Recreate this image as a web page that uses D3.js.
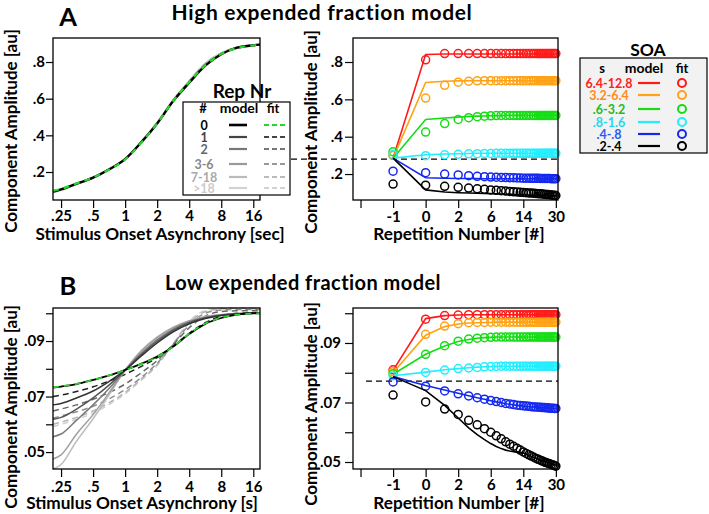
<!DOCTYPE html>
<html><head><meta charset="utf-8">
<script src="https://cdn.jsdelivr.net/npm/d3@7"></script>
<style>body{margin:0;background:#fff}svg{display:block}</style>
</head><body>
<svg id="c" width="709" height="514"></svg>
<script>
// ---------------- DATA ----------------
const soaX = [0.21,0.25,0.35,0.5,0.71,1,1.41,2,2.83,4,5.66,8,11.3,16,18.5];
const soaTicks = [0.25,0.5,1,2,4,8,16];
const soaTickLabels = [".25",".5","1","2","4","8","16"];
const repNrLabels = ["0","1","2","3-6","7-18",">18"];
const soaLabels = ["6.4-12.8","3.2-6.4",".6-3.2",".8-1.6",".4-.8",".2-.4"];
const reps = [-1,0,1,2,3,4,5,6,7,8,9,10,11,12,13,14,15,16,17,18,19,20,21,22,23,24,25,26,27,28,29,30];
const repTicks = [-1.5,-1,0,2,6,14,30];
const repTickLabels = ["","-1","0","2","6","14","30"];
const aYTicks = [0.2,0.4,0.6,0.8];
const aYTickLabels = [".2",".4",".6",".8"];
const bYTicks = [0.05,0.06,0.07,0.08,0.09,0.10];
const bYTickLabels = [".05","",".07","",".09",""];

// Panel A left (SOA curves)
const aModel0 = [0.093,0.105,0.136,0.169,0.215,0.270,0.360,0.465,0.587,0.687,0.780,0.842,0.878,0.891,0.895];
const aFit0   = [0.097,0.108,0.138,0.170,0.214,0.268,0.358,0.465,0.588,0.690,0.782,0.843,0.877,0.890,0.896];
const aModelLater = [0.090,0.102,0.134,0.168,0.215,0.271,0.362,0.468,0.592,0.696,0.792,0.848,0.880,0.892,0.895];

// Panel B left (SOA curves per repetition)
const bModel0   = [0.0732,0.0736,0.0745,0.0760,0.0776,0.0796,0.0818,0.0844,0.0880,0.0925,0.0962,0.0983,0.0995,0.1000,0.1000];
const bFit0     = [0.0733,0.0737,0.0746,0.0760,0.0776,0.0795,0.0817,0.0843,0.0880,0.0926,0.0963,0.0984,0.0995,0.0999,0.1000];
const bModel1   = [0.0670,0.0675,0.0695,0.0720,0.0755,0.0795,0.0845,0.0893,0.0933,0.0962,0.0981,0.0992,0.0997,0.1000,0.1000];
const bModel2   = [0.0618,0.0625,0.0655,0.0695,0.0742,0.0795,0.0850,0.0899,0.0938,0.0966,0.0983,0.0993,0.0998,0.1000,0.1000];
const bModel36  = [0.0555,0.0565,0.0615,0.0670,0.0730,0.0795,0.0855,0.0905,0.0943,0.0969,0.0985,0.0994,0.0998,0.1000,0.1000];
const bModel718 = [0.0475,0.0490,0.0565,0.0635,0.0715,0.0795,0.0862,0.0912,0.0948,0.0972,0.0987,0.0995,0.0999,0.1000,0.1000];
const bModel18  = [0.0438,0.0455,0.0540,0.0620,0.0707,0.0795,0.0865,0.0915,0.0950,0.0973,0.0988,0.0995,0.0999,0.1000,0.1000];
const bFit1   = [0.0700,0.0705,0.0718,0.0735,0.0756,0.0780,0.0808,0.0840,0.0882,0.0928,0.0966,0.0990,0.1000,0.1003,0.1003];
const bFit2   = [0.0648,0.0655,0.0670,0.0690,0.0715,0.0745,0.0785,0.0830,0.0888,0.0948,0.0990,0.1006,0.1009,0.1010,0.1010];
const bFit36  = [0.0622,0.0630,0.0645,0.0665,0.0692,0.0725,0.0768,0.0820,0.0888,0.0958,0.1000,0.1012,0.1014,0.1014,0.1014];
const bFit718 = [0.0600,0.0608,0.0625,0.0648,0.0678,0.0715,0.0762,0.0815,0.0890,0.0965,0.1006,0.1016,0.1018,0.1018,0.1018];
const bFit18  = [0.0592,0.0600,0.0618,0.0640,0.0672,0.0710,0.0758,0.0812,0.0890,0.0970,0.1010,0.1019,0.1020,0.1020,0.1020];

// Panel A right (per repetition, by SOA bin) model / fit
const aRedM = [0.285,0.840,0.843,0.843,0.843,0.843,0.843,0.843,0.843,0.843,0.843,0.843,0.843,0.843,0.843,0.843,0.843,0.843,0.843,0.843,0.843,0.843,0.843,0.843,0.843,0.843,0.843,0.843,0.843,0.843,0.843,0.843];
const aRedF = [0.300,0.812,0.845,0.845,0.845,0.845,0.845,0.845,0.845,0.845,0.845,0.845,0.845,0.845,0.845,0.845,0.845,0.845,0.845,0.845,0.845,0.845,0.845,0.845,0.845,0.845,0.845,0.845,0.845,0.845,0.845,0.845];
const aOrgM = [0.285,0.690,0.697,0.699,0.700,0.700,0.700,0.700,0.700,0.700,0.700,0.700,0.700,0.700,0.700,0.700,0.700,0.700,0.700,0.700,0.700,0.700,0.700,0.700,0.700,0.700,0.700,0.700,0.700,0.700,0.700,0.700];
const aOrgF = [0.300,0.607,0.675,0.692,0.697,0.699,0.700,0.700,0.700,0.700,0.700,0.700,0.700,0.700,0.700,0.700,0.700,0.700,0.700,0.700,0.700,0.700,0.700,0.700,0.700,0.700,0.700,0.700,0.700,0.700,0.700,0.700];
const aGrnM = [0.285,0.492,0.500,0.505,0.508,0.510,0.511,0.512,0.513,0.513,0.514,0.514,0.514,0.514,0.514,0.514,0.514,0.514,0.514,0.514,0.514,0.514,0.514,0.514,0.514,0.514,0.514,0.514,0.514,0.514,0.514,0.514];
const aGrnF = [0.320,0.425,0.470,0.492,0.502,0.507,0.510,0.512,0.513,0.514,0.514,0.514,0.514,0.514,0.514,0.514,0.514,0.514,0.514,0.514,0.514,0.514,0.514,0.514,0.514,0.514,0.514,0.514,0.514,0.514,0.514,0.514];
const aCynM = [0.285,0.303,0.307,0.309,0.310,0.311,0.311,0.311,0.311,0.311,0.311,0.311,0.311,0.311,0.311,0.311,0.311,0.311,0.311,0.311,0.311,0.311,0.311,0.311,0.311,0.311,0.311,0.311,0.311,0.311,0.311,0.311];
const aCynF = [0.305,0.298,0.303,0.306,0.308,0.309,0.310,0.310,0.311,0.311,0.311,0.311,0.311,0.311,0.311,0.311,0.311,0.311,0.311,0.311,0.311,0.311,0.311,0.311,0.311,0.311,0.311,0.311,0.311,0.311,0.311,0.311];
const aBluM = [0.285,0.180,0.177,0.176,0.176,0.176,0.175,0.175,0.175,0.175,0.175,0.175,0.175,0.175,0.175,0.175,0.175,0.175,0.175,0.175,0.175,0.175,0.175,0.175,0.175,0.175,0.175,0.175,0.175,0.175,0.175,0.175];
const aBluF = [0.215,0.207,0.200,0.195,0.191,0.188,0.186,0.184,0.183,0.182,0.181,0.180,0.180,0.179,0.179,0.178,0.178,0.178,0.177,0.177,0.177,0.177,0.176,0.176,0.176,0.176,0.176,0.176,0.175,0.175,0.175,0.175];
const aBlkM = [0.285,0.115,0.104,0.100,0.098,0.097,0.096,0.095,0.094,0.093,0.092,0.092,0.091,0.090,0.090,0.089,0.089,0.088,0.088,0.087,0.087,0.086,0.086,0.085,0.085,0.085,0.084,0.084,0.084,0.083,0.083,0.083];
const aBlkF = [0.146,0.140,0.134,0.129,0.125,0.121,0.118,0.115,0.113,0.111,0.109,0.107,0.105,0.104,0.102,0.101,0.100,0.099,0.098,0.097,0.096,0.095,0.094,0.093,0.092,0.091,0.090,0.089,0.088,0.087,0.086,0.085];
const aBaseline = 0.28;

// Panel B right
const bRedM = [0.0808,0.0982,0.0992,0.0994,0.0995,0.0995,0.0995,0.0995,0.0995,0.0995,0.0995,0.0995,0.0995,0.0995,0.0995,0.0995,0.0995,0.0995,0.0995,0.0995,0.0995,0.0995,0.0995,0.0995,0.0995,0.0995,0.0995,0.0995,0.0995,0.0995,0.0995,0.0995];
const bRedF = [0.0810,0.0980,0.0992,0.0994,0.0995,0.0995,0.0995,0.0995,0.0995,0.0995,0.0995,0.0995,0.0995,0.0995,0.0995,0.0995,0.0995,0.0995,0.0995,0.0995,0.0995,0.0995,0.0995,0.0995,0.0995,0.0995,0.0995,0.0995,0.0995,0.0995,0.0995,0.0995];
const bOrgM = [0.0800,0.0926,0.0955,0.0964,0.0967,0.0968,0.0969,0.0969,0.0970,0.0970,0.0970,0.0970,0.0970,0.0970,0.0970,0.0970,0.0970,0.0970,0.0970,0.0970,0.0970,0.0970,0.0970,0.0970,0.0970,0.0970,0.0970,0.0970,0.0970,0.0970,0.0970,0.0970];
const bOrgF = [0.0803,0.0929,0.0957,0.0965,0.0968,0.0969,0.0969,0.0970,0.0970,0.0970,0.0970,0.0970,0.0970,0.0970,0.0970,0.0970,0.0970,0.0970,0.0970,0.0970,0.0970,0.0970,0.0970,0.0970,0.0970,0.0970,0.0970,0.0970,0.0970,0.0970,0.0970,0.0970];
const bGrnM = [0.0795,0.0862,0.0890,0.0905,0.0912,0.0916,0.0918,0.0919,0.0920,0.0920,0.0920,0.0920,0.0920,0.0920,0.0920,0.0920,0.0920,0.0920,0.0920,0.0920,0.0920,0.0920,0.0920,0.0920,0.0920,0.0920,0.0920,0.0920,0.0920,0.0920,0.0920,0.0920];
const bGrnF = [0.0797,0.0862,0.0891,0.0906,0.0913,0.0916,0.0918,0.0919,0.0920,0.0920,0.0920,0.0920,0.0920,0.0920,0.0920,0.0920,0.0920,0.0920,0.0920,0.0920,0.0920,0.0920,0.0920,0.0920,0.0920,0.0920,0.0920,0.0920,0.0920,0.0920,0.0920,0.0920];
const bCynM = [0.0790,0.0802,0.0810,0.0814,0.0817,0.0819,0.0820,0.0821,0.0821,0.0822,0.0822,0.0822,0.0822,0.0822,0.0822,0.0822,0.0822,0.0822,0.0822,0.0822,0.0822,0.0822,0.0822,0.0822,0.0822,0.0822,0.0822,0.0822,0.0822,0.0822,0.0822,0.0822];
const bCynF = [0.0790,0.0801,0.0809,0.0814,0.0816,0.0818,0.0820,0.0821,0.0821,0.0822,0.0822,0.0822,0.0822,0.0822,0.0822,0.0822,0.0822,0.0822,0.0822,0.0822,0.0822,0.0822,0.0822,0.0822,0.0822,0.0822,0.0822,0.0822,0.0822,0.0822,0.0822,0.0822];
const bBluM = [0.0787,0.0757,0.0742,0.0731,0.0723,0.0716,0.0711,0.0706,0.0702,0.0699,0.0696,0.0694,0.0692,0.0690,0.0689,0.0688,0.0687,0.0686,0.0685,0.0685,0.0684,0.0684,0.0683,0.0683,0.0682,0.0682,0.0681,0.0681,0.0681,0.0680,0.0680,0.0680];
const bBluF = [0.0769,0.0755,0.0739,0.0729,0.0722,0.0716,0.0711,0.0707,0.0703,0.0700,0.0697,0.0695,0.0693,0.0691,0.0690,0.0689,0.0688,0.0687,0.0686,0.0685,0.0685,0.0684,0.0684,0.0683,0.0683,0.0682,0.0682,0.0681,0.0681,0.0681,0.0680,0.0680];
const bBlkM = [0.0787,0.0740,0.0690,0.0648,0.0615,0.0592,0.0575,0.0562,0.0552,0.0545,0.0540,0.0537,0.0535,0.0534,0.0533,0.0530,0.0527,0.0523,0.0519,0.0516,0.0513,0.0510,0.0507,0.0505,0.0503,0.0501,0.0499,0.0497,0.0495,0.0493,0.0491,0.0489];
const bBlkF = [0.0725,0.0702,0.0678,0.0660,0.0640,0.0625,0.0612,0.0600,0.0588,0.0578,0.0568,0.0560,0.0553,0.0546,0.0540,0.0534,0.0529,0.0524,0.0520,0.0516,0.0512,0.0509,0.0506,0.0503,0.0500,0.0498,0.0496,0.0494,0.0492,0.0490,0.0488,0.0486];
const bBaseline = 0.0772;

// ---------------- STYLE ----------------
const F = "Lato, 'Open Sans', sans-serif";
const soaColors = ["#ff1a1a","#ffa214","#14dd14","#22eeff","#1428ee","#000000"];
const soaTextColors = ["#ff2020","#ff8a1c","#22bb22","#22d8ee","#2a5cf0","#000000"];
const repLineColors = ["#000000","#444444","#777777","#999999","#bbbbbb","#d2d2d2"];
const repTextColors = ["#000000","#444444","#666666","#888888","#aaaaaa","#cccccc"];

const svg = d3.select("#c");

function txt(x,y,s,size,opts={}){
  const t = svg.append("text").attr("x",x).attr("y",y).text(s)
    .attr("font-family",F).attr("font-weight","bold").attr("font-size",size)
    .attr("fill",opts.fill||"#000").attr("text-anchor",opts.anchor||"middle");
  if(opts.ls) t.attr("letter-spacing",opts.ls);
  if(opts.rotate) t.attr("transform",`rotate(-90,${x},${y})`);
  return t;
}

function frame(x0,y0,x1,y1){
  svg.append("rect").attr("x",x0).attr("y",y0).attr("width",x1-x0).attr("height",y1-y0)
    .attr("fill","none").attr("stroke","#000").attr("stroke-width",1.3);
}

function styleAxis(g){
  g.select(".domain").remove();
  g.attr("font-family",F).attr("font-size",15).attr("font-weight","bold");
  g.selectAll("line").attr("stroke","#000").attr("stroke-width",1.2);
  g.selectAll("text").attr("fill","#000");
}

// ---------------- SCALES ----------------
const xSoa = d3.scaleLog().base(2).domain([0.21,18.5]).range([53,260]);
const xRepRaw = d3.scaleLog().base(2).domain([0.426,33.5]).range([353,558]);
const xRep = r => xRepRaw(r+2);

const yAL = d3.scaleLinear().domain([0.0473,0.931]).range([200,38]);
const yAR = d3.scaleLinear().domain([0.0609,0.9286]).range([200,38]);
const yBL = d3.scaleLinear().domain([0.0439,0.1019]).range([469,308]);
const yBR = d3.scaleLinear().domain([0.04765,0.10176]).range([469,308]);

// ---------------- AXES ----------------
function soaAxis(yPos,pad){
  const g = svg.append("g").attr("transform",`translate(0,${yPos})`)
    .call(d3.axisBottom(xSoa).tickValues(soaTicks).tickSize(8).tickPadding(pad)
      .tickFormat((d,i)=>soaTickLabels[i]));
  styleAxis(g);
}
function repAxis(yPos,pad){
  const g = svg.append("g").attr("transform",`translate(0,${yPos})`)
    .call(d3.axisBottom(xRepRaw).tickValues(repTicks.map(r=>r+2)).tickSize(8).tickPadding(pad)
      .tickFormat((d,i)=>repTickLabels[i]));
  styleAxis(g);
}
function yAxis(scale,xPos,vals,labels,size,pad){
  const g = svg.append("g").attr("transform",`translate(${xPos},0)`)
    .call(d3.axisLeft(scale).tickValues(vals).tickSize(size).tickPadding(pad)
      .tickFormat((d,i)=>labels[i]));
  styleAxis(g);
}

soaAxis(200,2.5); repAxis(200,3);
soaAxis(469,4.5); repAxis(469,2.5);
yAxis(yAL,53,aYTicks,aYTickLabels,7,1);
yAxis(yAR,353,aYTicks,aYTickLabels,8,2);
yAxis(yBL,53,bYTicks,bYTickLabels,7,1);
yAxis(yBR,353,bYTicks,bYTickLabels,8,4);

// ---------------- LINES ----------------
function soaLine(vals,y,color,w,dash){
  const line = d3.line().x((d,i)=>xSoa(soaX[i])).y(d=>y(d)).curve(d3.curveMonotoneX);
  const p = svg.append("path").attr("d",line(vals)).attr("fill","none")
    .attr("stroke",color).attr("stroke-width",w);
  if(dash) p.attr("stroke-dasharray",dash);
}

// Panel A left
soaLine(aModelLater,yAL,"#c8c8c8",2.2);
soaLine(aModelLater,yAL,"#aaaaaa",1.6,"6,4");
soaLine(aModel0,yAL,"#000",2.4);
soaLine(aFit0,yAL,"#2bd42b",2.2,"6,5");

// Panel B left
const bModels=[bModel18,bModel718,bModel36,bModel2,bModel1];
const bFits=[bFit18,bFit718,bFit36,bFit2,bFit1];
const bModelCols=["#bdbdbd","#a0a0a0","#7a7a7a","#555555","#333333"];
const bFitCols=["#cfcfcf","#b4b4b4","#909090","#666666","#222222"];
bFits.forEach((v,i)=>soaLine(v,yBL,bFitCols[i],1.5,"6,4"));
bModels.forEach((v,i)=>soaLine(v,yBL,bModelCols[i],1.5));
soaLine(bModel0,yBL,"#000",1.8);
soaLine(bFit0,yBL,"#2bd42b",1.8,"6,5");

// Right panels
function repSeries(M,Fv,y,color){
  const line = d3.line().x((d,i)=>xRep(reps[i])).y(d=>y(d));
  svg.append("path").attr("d",line(M)).attr("fill","none").attr("stroke",color).attr("stroke-width",1.6);
  svg.append("g").selectAll("circle").data(Fv).join("circle")
    .attr("cx",(d,i)=>xRep(reps[i])).attr("cy",d=>y(d)).attr("r",4)
    .attr("fill","none").attr("stroke",color).attr("stroke-width",1.5);
}
// baselines
svg.append("line").attr("x1",291).attr("x2",558).attr("y1",yAR(aBaseline)).attr("y2",yAR(aBaseline))
  .attr("stroke","#000").attr("stroke-width",1.3).attr("stroke-dasharray","6,4");
svg.append("line").attr("x1",366).attr("x2",558).attr("y1",yBR(bBaseline)).attr("y2",yBR(bBaseline))
  .attr("stroke","#000").attr("stroke-width",1.3).attr("stroke-dasharray","6,4");

const aSets=[[aRedM,aRedF],[aOrgM,aOrgF],[aGrnM,aGrnF],[aCynM,aCynF],[aBluM,aBluF],[aBlkM,aBlkF]];
const bSets=[[bRedM,bRedF],[bOrgM,bOrgF],[bGrnM,bGrnF],[bCynM,bCynF],[bBluM,bBluF],[bBlkM,bBlkF]];
aSets.forEach((s,i)=>repSeries(s[0],s[1],yAR,soaColors[i]));
bSets.forEach((s,i)=>repSeries(s[0],s[1],yBR,soaColors[i]));

// frames
frame(53,38,260,200); frame(353,38,558,200);
frame(53,308,260,469); frame(353,308,558,469);

// ---------------- LEGENDS ----------------
// Rep Nr legend
svg.append("rect").attr("x",183).attr("y",102).attr("width",107).attr("height",93)
  .attr("fill","#fff").attr("stroke","#000").attr("stroke-width",1.2);
txt(242,98,"Rep Nr",19);
txt(203,113,"#",13); txt(239,113,"model",14); txt(273,113,"fit",13);
const repRowY=[125,137,149,164,177,188];
repNrLabels.forEach((l,i)=>{
  txt(204,repRowY[i]+4.5,l,12.5,{fill:repTextColors[i]});
  svg.append("line").attr("x1",229).attr("x2",247).attr("y1",repRowY[i]).attr("y2",repRowY[i])
    .attr("stroke",repLineColors[i]).attr("stroke-width",i==0?2.6:2.2);
  svg.append("line").attr("x1",264).attr("x2",285).attr("y1",repRowY[i]).attr("y2",repRowY[i])
    .attr("stroke",i==0?"#2bd42b":repLineColors[i]).attr("stroke-width",2).attr("stroke-dasharray","5,3");
});

// SOA legend
svg.append("rect").attr("x",580).attr("y",58).attr("width",127).attr("height",95)
  .attr("fill","#f2f2f2").attr("stroke","#000").attr("stroke-width",1.2);
txt(648,56,"SOA",17.5);
txt(602,73,"s",13); txt(644,73,"model",14); txt(682,73,"fit",13);
const soaRowY=[83,95,109,122,134,146];
soaLabels.forEach((l,i)=>{
  txt(609,soaRowY[i]+4.5,l,12.5,{fill:soaTextColors[i]});
  svg.append("line").attr("x1",638).attr("x2",660).attr("y1",soaRowY[i]).attr("y2",soaRowY[i])
    .attr("stroke",soaColors[i]).attr("stroke-width",2.2);
  svg.append("circle").attr("cx",682).attr("cy",soaRowY[i]).attr("r",4)
    .attr("fill","none").attr("stroke",soaColors[i]).attr("stroke-width",2);
});

// ---------------- TEXT ----------------
txt(68,25.5,"A",25.5);
txt(68,295,"B",25.5);
txt(322,20,"High expended fraction model",21,{ls:0.65});
txt(303,290,"Low expended fraction model",20,{ls:0.45});
txt(17,131,"Component Amplitude [au]",17,{rotate:true});
txt(317,132,"Component Amplitude [au]",17,{rotate:true});
txt(17,407,"Component Amplitude [au]",17,{rotate:true});
txt(317,404,"Component Amplitude [au]",17,{rotate:true});
txt(160,239.5,"Stimulus Onset Asynchrony [sec]",17.2);
txt(459,239.5,"Repetition Number [#]",17.2);
txt(142,509,"Stimulus Onset Asynchrony [s]",17.2);
txt(459,508.5,"Repetition Number [#]",17.2);
</script>
</body></html>
